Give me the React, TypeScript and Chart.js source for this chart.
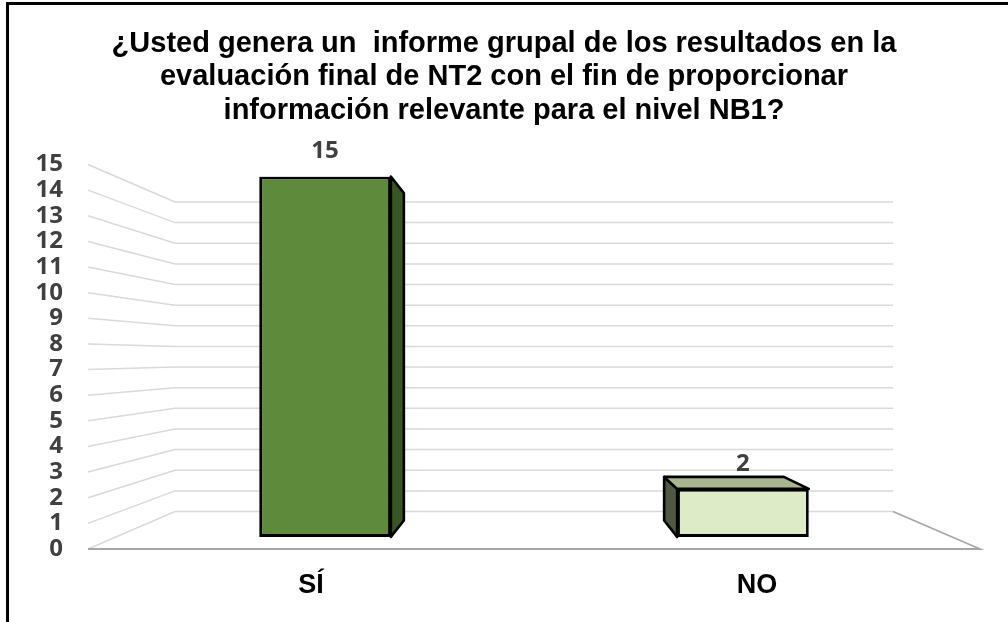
import React, { useEffect, useRef } from 'react';
import { Chart, registerables } from 'chart.js';

Chart.register(...registerables);

// ---- Data ----
const TITLE_LINES = [
  '¿Usted genera un  informe grupal de los resultados en la',
  'evaluación final de NT2 con el fin de proporcionar',
  'información relevante para el nivel NB1?',
];
const CATEGORIES = ['SÍ', 'NO'];
const VALUES = [15, 2];
const Y_MIN = 0;
const Y_MAX = 15;
const Y_STEP = 1;

// ---- Styles ----
const FRONT_COLORS = ['#5E8B3B', '#DEEBC7'];
const SIDE_COLORS = ['#375623', '#4F5840'];
const TOP_COLORS = ['#4A7430', '#A8B58F'];
const GRID_COLOR = '#D9D9D9';
const FLOOR_COLOR = '#A6A6A6';
const LABEL_COLOR = '#404040';

// perspective depths (fraction of the way from the front plane to the vanishing point)
const WALL_DEPTH = 0.195;
const BAR_FRONT_DEPTH = 0.063;
const BAR_BACK_DEPTH = 0.148;

function vp(chart: any) {
  const a = chart.chartArea;
  return { x: (a.left + a.right) / 2, y: (a.top + a.bottom) / 2 };
}
function proj(chart: any, x: number, y: number, d: number) {
  const v = vp(chart);
  return { x: x + d * (v.x - x), y: y + d * (v.y - y) };
}

const perspectivePlugin = {
  id: 'perspective3d',
  beforeDatasetsDraw(chart: any) {
    const ctx = chart.ctx;
    const a = chart.chartArea;
    const ys = chart.scales.y;
    ctx.save();
    // back wall grid lines, with their slanted side-wall part
    ctx.strokeStyle = GRID_COLOR;
    ctx.lineWidth = 1.5;
    const backRight = proj(chart, a.right, a.bottom, WALL_DEPTH).x;
    for (let v = Y_MIN; v <= Y_MAX; v += Y_STEP) {
      const yf = ys.getPixelForValue(v);
      const b = proj(chart, a.left, yf, WALL_DEPTH);
      ctx.beginPath();
      ctx.moveTo(a.left, yf);
      ctx.lineTo(b.x, b.y);
      ctx.lineTo(backRight, b.y);
      ctx.stroke();
    }
    // floor front edge and right edge
    const y0 = ys.getPixelForValue(Y_MIN);
    const br = proj(chart, a.right, y0, WALL_DEPTH);
    ctx.strokeStyle = FLOOR_COLOR;
    ctx.lineWidth = 1.8;
    ctx.beginPath();
    ctx.moveTo(a.left, y0);
    ctx.lineTo(a.right, y0);
    ctx.lineTo(br.x, br.y);
    ctx.stroke();

    // 3D sides of bars
    const meta = chart.getDatasetMeta(0);
    const v = vp(chart);
    meta.data.forEach((bar: any, i: number) => {
      const p = bar.getProps(['x', 'y', 'base', 'width'], true);
      const l = p.x - p.width / 2;
      const r = p.x + p.width / 2;
      const t = Math.min(p.y, p.base);
      const btm = Math.max(p.y, p.base);
      const P = (x: number, y: number, d: number) => proj(chart, x, y, d);
      const poly = (pts: any[], fill: string) => {
        ctx.beginPath();
        ctx.moveTo(pts[0].x, pts[0].y);
        for (let k = 1; k < pts.length; k++) ctx.lineTo(pts[k].x, pts[k].y);
        ctx.closePath();
        ctx.fillStyle = fill;
        ctx.fill();
        ctx.strokeStyle = '#000000';
        ctx.lineWidth = 2.6;
        ctx.lineJoin = 'round';
        ctx.stroke();
      };
      const fr = P(r, t, BAR_FRONT_DEPTH);
      const fl = P(l, t, BAR_FRONT_DEPTH);
      if (fr.x < v.x) {
        poly([P(r, t, BAR_FRONT_DEPTH), P(r, t, BAR_BACK_DEPTH), P(r, btm, BAR_BACK_DEPTH), P(r, btm, BAR_FRONT_DEPTH)], SIDE_COLORS[i]);
      }
      if (fl.x > v.x) {
        poly([P(l, t, BAR_FRONT_DEPTH), P(l, t, BAR_BACK_DEPTH), P(l, btm, BAR_BACK_DEPTH), P(l, btm, BAR_FRONT_DEPTH)], SIDE_COLORS[i]);
      }
      if (fl.y > v.y) {
        poly([P(l, t, BAR_FRONT_DEPTH), P(l, t, BAR_BACK_DEPTH), P(r, t, BAR_BACK_DEPTH), P(r, t, BAR_FRONT_DEPTH)], TOP_COLORS[i]);
      }
    });
    ctx.restore();

    // bar front faces are drawn by Chart.js, transformed into the bar front plane
    ctx.save();
    const d = BAR_FRONT_DEPTH;
    ctx.translate(d * v.x, d * v.y);
    ctx.scale(1 - d, 1 - d);
  },
  afterDatasetsDraw(chart: any) {
    const ctx = chart.ctx;
    ctx.restore();
    const meta = chart.getDatasetMeta(0);
    ctx.save();
    ctx.font = 'bold 24px "Open Sans", sans-serif';
    ctx.fillStyle = LABEL_COLOR;
    ctx.textAlign = 'center';
    ctx.textBaseline = 'middle';
    meta.data.forEach((bar: any, i: number) => {
      const p = bar.getProps(['x', 'y'], true);
      const q = proj(chart, p.x, p.y, BAR_FRONT_DEPTH);
      ctx.fillText(String(VALUES[i]), q.x, q.y - 25);
    });
    ctx.restore();
  },
};

export default function App() {
  const canvasRef = useRef<HTMLCanvasElement | null>(null);

  useEffect(() => {
    if (!canvasRef.current) return;
    const chart = new Chart(canvasRef.current, {
      type: 'bar',
      data: {
        labels: CATEGORIES,
        datasets: [
          {
            data: VALUES,
            backgroundColor: FRONT_COLORS,
            borderColor: '#000000',
            borderWidth: 3,
            borderSkipped: false,
            barPercentage: 0.315,
            categoryPercentage: 1,
          },
        ],
      },
      options: {
        animation: false,
        responsive: false,
        devicePixelRatio: 1,
        layout: { padding: { left: 28, right: 28, top: 0, bottom: 21 } },
        plugins: {
          legend: { display: false },
          tooltip: { enabled: false },
          title: {
            display: true,
            text: TITLE_LINES,
            color: '#000000',
            font: { family: '"Liberation Sans", Arial, sans-serif', size: 29, weight: 'bold', lineHeight: 33.5 / 29 },
            padding: { top: 27, bottom: 37 },
          },
        },
        scales: {
          x: {
            grid: { display: false, drawTicks: false },
            border: { display: false },
            ticks: {
              color: '#000000',
              padding: 20,
              font: { family: '"Liberation Sans", Arial, sans-serif', size: 27, weight: 'bold' },
            },
            afterFit: (s: any) => { s.height = 52; },
          },
          y: {
            min: Y_MIN,
            max: Y_MAX,
            grid: { display: false, drawTicks: false },
            border: { display: false },
            ticks: {
              stepSize: Y_STEP,
              autoSkip: false,
              color: LABEL_COLOR,
              padding: 25,
              font: { family: '"Open Sans", sans-serif', size: 24, weight: 'bold', lineHeight: 1 },
            },
            afterFit: (s: any) => { s.width = 60; },
          },
        },
      },
      plugins: [perspectivePlugin],
    });
    return () => chart.destroy();
  }, []);

  return (
    <div style={{ position: 'fixed', left: 0, top: 0, width: 1008, height: 622, background: '#ffffff', overflow: 'hidden' }}>
      <canvas ref={canvasRef} width={1008} height={622} style={{ position: 'absolute', left: 0, top: 0, width: 1008, height: 622 }} />
      <div
        style={{
          position: 'absolute',
          left: 6,
          top: 2,
          width: 1010,
          height: 630,
          borderTop: '3px solid #000',
          borderLeft: '3px solid #000',
          pointerEvents: 'none',
        }}
      />
    </div>
  );
}
